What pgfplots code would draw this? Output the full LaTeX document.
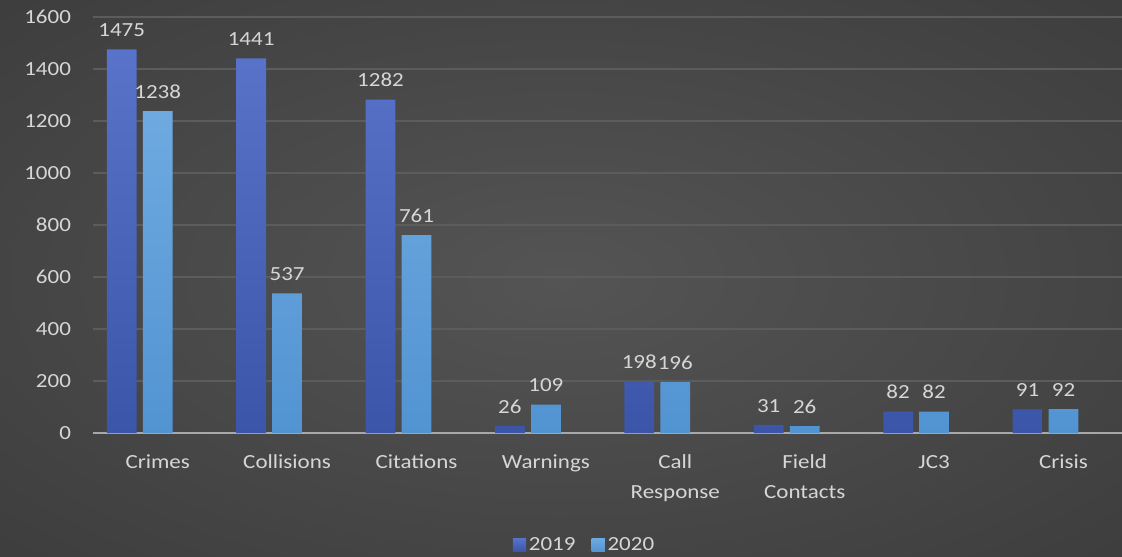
\documentclass[border=0pt]{standalone}
\usepackage{fontspec}
\setmainfont{Carlito}[FakeStretch=1.15]
\usepackage{pgfplots}
\usepackage{pgfplotstable}
\pgfplotsset{compat=1.18}

\definecolor{barAt}{HTML}{5873C9}
\definecolor{barAb}{HTML}{3B55A9}
\definecolor{barBt}{HTML}{6EAAE0}
\definecolor{barBb}{HTML}{5293D2}
\definecolor{txt}{HTML}{D6D6D6}
\definecolor{gridc}{HTML}{5C5C5C}
\definecolor{axisc}{HTML}{A8A8A8}
\pgfdeclareradialshading{bgshade}{\pgfpoint{0bp}{0bp}}{rgb(0bp)=(0.33,0.33,0.33); rgb(72bp)=(0.15,0.15,0.15)}

\pgfplotstableread{
x  y2019 y2020
0  1475  1238
1  1441  537
2  1282  761
3  26    109
4  198   196
5  31    26
6  82    82
7  91    92
}\counts

\begin{document}
\begin{tikzpicture}
\shade[shading=bgshade] (-69.75pt,-93pt) rectangle (771.75pt,324.75pt);
\begin{axis}[
    scale only axis,
    width=771.75pt, height=312pt,
    xmin=-0.5, xmax=7.452,
    ymin=0, ymax=1600,
    ytick={0,200,...,1600},
    xtick={0,...,7},
    xticklabels={Crimes,Collisions,Citations,Warnings,{Call\\Response},{Field\\Contacts},JC3,Crisis},
    font=\fontsize{15}{22}\selectfont,
    /pgf/number format/assume math mode=true,
    /pgf/number format/1000 sep={},
    xticklabel style={align=center, text=txt, yshift=-13pt},
    yticklabel style={text=txt, xshift=-13pt},
    axis x line*=bottom,
    axis y line*=left,
    x axis line style={draw=axisc, line width=1.1pt, -},
    y axis line style={draw=none},
    major tick length=0pt,
    ymajorgrids,
    grid style={draw=gridc, line width=1.1pt},
    nodes near coords,
    nodes near coords align={vertical},
    every node near coord/.append style={text=txt, yshift=6pt, font=\fontsize{15}{18}\selectfont},
    legend style={at={(0.478,-0.269)}, anchor=center, legend columns=2,
        draw=none, fill=none, text=txt, font=\fontsize{15}{18}\selectfont,
        /tikz/every even column/.append style={column sep=10pt}},
    legend image code/.code={\fill[#1] (0pt,-5pt) rectangle (10pt,5pt);},
]
\addplot[ybar, bar width=0.23, bar shift=-0.278, draw=none, top color=barAt, bottom color=barAb,
    every node near coord/.append style={xshift=-27pt}]
    table[x=x, y=y2019] {\counts};
\addplot[ybar, bar width=0.23, bar shift=0, draw=none, top color=barBt, bottom color=barBb]
    table[x=x, y=y2020] {\counts};
\legend{2019,2020}
\end{axis}
\pgfresetboundingbox
\path (-69.75pt,-93pt) rectangle (771.75pt,324.75pt);
\end{tikzpicture}
\end{document}
